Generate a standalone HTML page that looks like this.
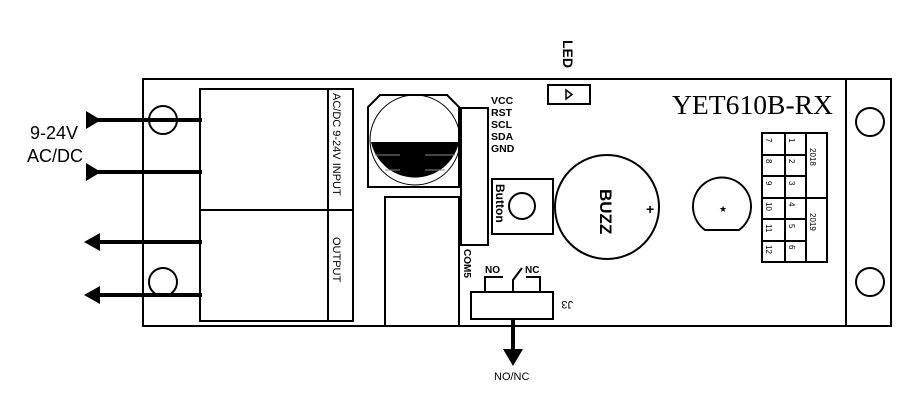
<!DOCTYPE html>
<html><head><meta charset="utf-8"><style>body{margin:0;background:#fff}svg{display:block}</style></head><body>
<svg width="920" height="416" viewBox="0 0 920 416" xmlns="http://www.w3.org/2000/svg" font-family="Liberation Sans, sans-serif">
<g fill="none" stroke="#000" stroke-width="2">
<rect x="143" y="79" width="748" height="247"/>
<line x1="846" y1="79" x2="846" y2="326"/>
<circle cx="870" cy="122" r="14"/>
<circle cx="870" cy="282" r="14"/>
<circle cx="163" cy="120" r="14"/>
<circle cx="163" cy="282" r="14"/>
<rect x="200" y="89" width="153" height="232"/>
<line x1="328" y1="89" x2="328" y2="321"/>
<line x1="200" y1="210" x2="353" y2="210"/>
<rect x="548" y="85" width="42" height="19"/>
<polygon points="380,95 447,95 459,107 459,187 368,187 368,107"/>
<rect x="461" y="108" width="27" height="137"/>
<rect x="492" y="179" width="61" height="55"/>
<circle cx="522" cy="206" r="13"/>
<circle cx="607" cy="207" r="52"/>
<rect x="385" y="197" width="74" height="129"/>
<rect x="471" y="292" width="82" height="27"/>
<polyline points="485,292 485,277 503,277"/>
<polyline points="513,292 513,280 522,268"/>
<polyline points="526,277 540,277 540,292"/>
<path d="M705,230 A29,29 0 1 1 739,230 Z"/>
<rect x="762" y="133" width="65" height="129"/>
<line x1="785" y1="133" x2="785" y2="262"/>
<line x1="806" y1="133" x2="806" y2="262"/>
<line x1="806" y1="198" x2="827" y2="198"/>
<line x1="762" y1="155" x2="806" y2="155"/>
<line x1="762" y1="176" x2="806" y2="176"/>
<line x1="762" y1="198" x2="806" y2="198"/>
<line x1="762" y1="219" x2="806" y2="219"/>
<line x1="762" y1="241" x2="806" y2="241"/>
</g>
<path d="M371,142 L459,142 A45,45 0 0 1 371,142 Z" fill="#000"/>
<circle cx="415" cy="140" r="45" fill="none" stroke="#000" stroke-width="1"/>
<g stroke="#888" stroke-width="1"><line x1="375" y1="155" x2="400" y2="155"/><line x1="425" y1="155" x2="455" y2="155"/><line x1="385" y1="170" x2="400" y2="170"/><line x1="425" y1="170" x2="445" y2="170"/></g>
<polygon points="566,90 572,94.5 566,99" fill="none" stroke="#000" stroke-width="1.5"/>
<g stroke="#000" stroke-width="4">
<line x1="98" y1="120" x2="202" y2="120"/>
<line x1="98" y1="172" x2="202" y2="172"/>
<line x1="98" y1="242" x2="202" y2="242"/>
<line x1="98" y1="295" x2="202" y2="295"/>
<line x1="513" y1="319" x2="513" y2="352"/>
</g>
<g fill="#000">
<polygon points="86,111 101,120 86,129"/>
<polygon points="86,163 101,172 86,181"/>
<polygon points="100,233 84,242 100,251"/>
<polygon points="100,286 84,295 100,304"/>
<polygon points="503,349 523,349 513,366"/>
</g>
<g fill="#000">
<text x="30" y="139" font-size="18">9-24V</text>
<text x="27" y="162" font-size="18">AC/DC</text>
<text transform="translate(333,93) rotate(90)" font-size="11">AC/DC 9-24V INPUT</text>
<text transform="translate(333,237) rotate(90)" font-size="11">OUTPUT</text>
<text transform="translate(563,40) rotate(90)" font-size="14" font-weight="bold">LED</text>
<g font-size="10.5" font-weight="bold"><text x="491" y="104">VCC</text><text x="491" y="116">RST</text><text x="491" y="128">SCL</text><text x="491" y="140">SDA</text><text x="491" y="152">GND</text></g>
<text transform="translate(496,184) rotate(90)" font-size="12" font-weight="bold">Button</text>
<text transform="translate(600,189) rotate(90)" font-size="17" font-weight="bold">BUZZ</text>
<text x="646" y="214" font-size="14" font-weight="bold">+</text>
<text x="672" y="114" font-size="27" font-family="Liberation Serif, serif" textLength="161" lengthAdjust="spacingAndGlyphs">YET610B-RX</text>
<text transform="translate(464,249) rotate(90)" font-size="10" font-weight="bold">COM5</text>
<text x="485" y="273" font-size="10" font-weight="bold">NO</text>
<text x="525" y="273" font-size="10" font-weight="bold">NC</text>
<text transform="translate(573,301) rotate(180)" font-size="11">J3</text>
<text x="494" y="380" font-size="11">NO/NC</text>
<text x="719" y="212" font-size="9">★</text>
<g font-size="8">
<text transform="translate(766,138) rotate(90)">7</text><text transform="translate(766,159) rotate(90)">8</text><text transform="translate(766,181) rotate(90)">9</text><text transform="translate(766,202) rotate(90)">10</text><text transform="translate(766,224) rotate(90)">11</text><text transform="translate(766,245) rotate(90)">12</text>
<text transform="translate(789,138) rotate(90)">1</text><text transform="translate(789,159) rotate(90)">2</text><text transform="translate(789,181) rotate(90)">3</text><text transform="translate(789,202) rotate(90)">4</text><text transform="translate(789,224) rotate(90)">5</text><text transform="translate(789,245) rotate(90)">6</text>
<text transform="translate(810,148) rotate(90)">2018</text><text transform="translate(810,213) rotate(90)">2019</text>
</g>
</g>
</svg>
</body></html>
